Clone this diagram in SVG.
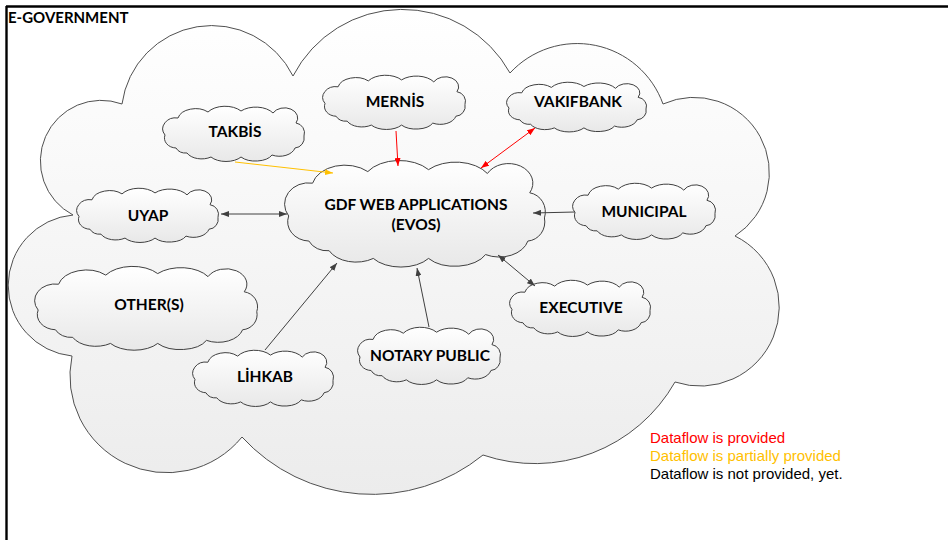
<svg xmlns="http://www.w3.org/2000/svg" xmlns:xlink="http://www.w3.org/1999/xlink" width="948" height="540" viewBox="0 0 948 540">
<style>
.lbl{font-family:Lato,"Open Sans","Liberation Sans",sans-serif;font-weight:bold;font-size:15.5px;fill:#000;text-anchor:middle}
.title{font-family:Lato,"Open Sans","Liberation Sans",sans-serif;font-weight:bold;font-size:15px;fill:#000}
.leg{font-family:"Liberation Sans",Arial,sans-serif;font-size:15px}
.small{fill:url(#gSmall);stroke:#404040;stroke-width:1}
.conn{fill:none;stroke-width:1}
.red{stroke:#FF0000}
.yel{stroke:#FFC000}
.gry{stroke:#404040}
</style>
<defs>
<linearGradient id="gBig" x1="0" y1="0" x2="0" y2="1">
<stop offset="0" stop-color="#ffffff"/>
<stop offset="1" stop-color="#ececec"/>
</linearGradient>
<linearGradient id="gSmall" x1="0" y1="0" x2="0" y2="1">
<stop offset="0" stop-color="#ffffff"/>
<stop offset="1" stop-color="#e8e8e8"/>
</linearGradient>
<path id="cloud" vector-effect="non-scaling-stroke" d="M2,29 A13,11 0 0 1 15,12 A18,12 0 0 1 45,6 A20,12 0 0 1 78,5 A20,12 0 0 1 110,7 A13,10 0 0 1 133,17 A10,10 0 0 1 141,30 A10,10 0 0 1 132,42 A16,11 0 0 1 109,49 A18,10 0 0 1 78,51 A18,10 0 0 1 48,51 A16,10 0 0 1 24,47 A11,9 0 0 1 13,42 A12,10 0 0 1 2,29 Z"/>
<marker id="aRed" viewBox="0 0 8 6" refX="8" refY="3" markerWidth="8" markerHeight="6" markerUnits="userSpaceOnUse" orient="auto-start-reverse"><path d="M0,0 L8,3 L0,6 Z" fill="#FF0000"/></marker>
<marker id="aYel" viewBox="0 0 8 6" refX="8" refY="3" markerWidth="8" markerHeight="6" markerUnits="userSpaceOnUse" orient="auto-start-reverse"><path d="M0,0 L8,3 L0,6 Z" fill="#FFC000"/></marker>
<marker id="aGry" viewBox="0 0 8 6" refX="8" refY="3" markerWidth="8" markerHeight="6" markerUnits="userSpaceOnUse" orient="auto-start-reverse"><path d="M0,0 L8,3 L0,6 Z" fill="#404040"/></marker>
</defs>
<rect x="0" y="0" width="948" height="540" fill="#ffffff"/>
<g id="frame" stroke="#000" stroke-width="2.4" fill="none">
<line x1="6" y1="6.5" x2="948" y2="6.5"/>
<line x1="6.5" y1="6" x2="6.5" y2="540"/>
</g>
<text class="title" x="8" y="23">E-GOVERNMENT</text>
<g id="e-government-cloud">
<path d="M122,104 A90.6,90.6 0 0 1 293,76 A123,123 0 0 1 510,73 A91.2,91.2 0 0 1 663,104 A75.4,75.4 0 0 1 735,236 A79.1,79.1 0 0 1 675,382 A161,161 0 0 1 483,455 A176,176 0 0 1 242,437 A96.9,96.9 0 0 1 72,356 A70.8,70.8 0 0 1 73,215 A60.8,60.8 0 0 1 122,104 Z" fill="url(#gBig)" stroke="#505050" stroke-width="1"/>
</g>
<g id="node-takbis"><use xlink:href="#cloud" class="small" transform="translate(163,106) scale(1,1)"/><text class="lbl" x="235" y="137">TAKBİS</text></g>
<g id="node-mernis"><use xlink:href="#cloud" class="small" transform="translate(323,75) scale(1.007,0.982)"/><text class="lbl" x="395" y="107">MERNİS</text></g>
<g id="node-vakifbank"><use xlink:href="#cloud" class="small" transform="translate(507,82) scale(0.986,0.9)"/><text class="lbl" x="578" y="107">VAKIFBANK</text></g>
<g id="node-gdf"><use xlink:href="#cloud" class="small" transform="translate(285,160) scale(1.84,1.93)"/><text class="lbl" x="416" y="210">GDF WEB APPLICATIONS</text><text class="lbl" x="416" y="230">(EVOS)</text></g>
<g id="node-municipal"><use xlink:href="#cloud" class="small" transform="translate(573,183) scale(1.007,1.018)"/><text class="lbl" x="644" y="217">MUNICIPAL</text></g>
<g id="node-executive"><use xlink:href="#cloud" class="small" transform="translate(510,280) scale(0.993,1.018)"/><text class="lbl" x="581" y="313">EXECUTIVE</text></g>
<g id="node-uyap"><use xlink:href="#cloud" class="small" transform="translate(77,188) scale(1,0.982)"/><text class="lbl" x="148" y="221">UYAP</text></g>
<g id="node-others"><use xlink:href="#cloud" class="small" transform="translate(35,266) scale(1.573,1.518)"/><text class="lbl" x="149" y="310">OTHER(S)</text></g>
<g id="node-lihkab"><use xlink:href="#cloud" class="small" transform="translate(193,350) scale(0.993,1.018)"/><text class="lbl" x="265" y="382">LİHKAB</text></g>
<g id="node-notary"><use xlink:href="#cloud" class="small" transform="translate(358,327) scale(1.007,1.036)"/><text class="lbl" x="430" y="361">NOTARY PUBLIC</text></g>
<g id="connectors">
<line class="conn yel" x1="235" y1="162" x2="333" y2="173" marker-end="url(#aYel)"/>
<line class="conn red" x1="396" y1="131" x2="398" y2="166" marker-end="url(#aRed)"/>
<line class="conn red" x1="535" y1="128" x2="481" y2="168" marker-start="url(#aRed)" marker-end="url(#aRed)"/>
<line class="conn gry" x1="221" y1="214" x2="287" y2="214" marker-start="url(#aGry)" marker-end="url(#aGry)"/>
<line class="conn gry" x1="575" y1="212" x2="533" y2="213" marker-end="url(#aGry)"/>
<line class="conn gry" x1="498" y1="255" x2="535" y2="286" marker-start="url(#aGry)" marker-end="url(#aGry)"/>
<line class="conn gry" x1="265" y1="350" x2="337" y2="263" marker-end="url(#aGry)"/>
<line class="conn gry" x1="429" y1="327" x2="417" y2="268" marker-end="url(#aGry)"/>
</g>
<g id="legend">
<text class="leg" x="650" y="443" fill="#FF0000">Dataflow is provided</text>
<text class="leg" x="650" y="461" fill="#FFC000">Dataflow is partially provided</text>
<text class="leg" x="650" y="479" fill="#000000">Dataflow is not provided, yet.</text>
</g>
</svg>
